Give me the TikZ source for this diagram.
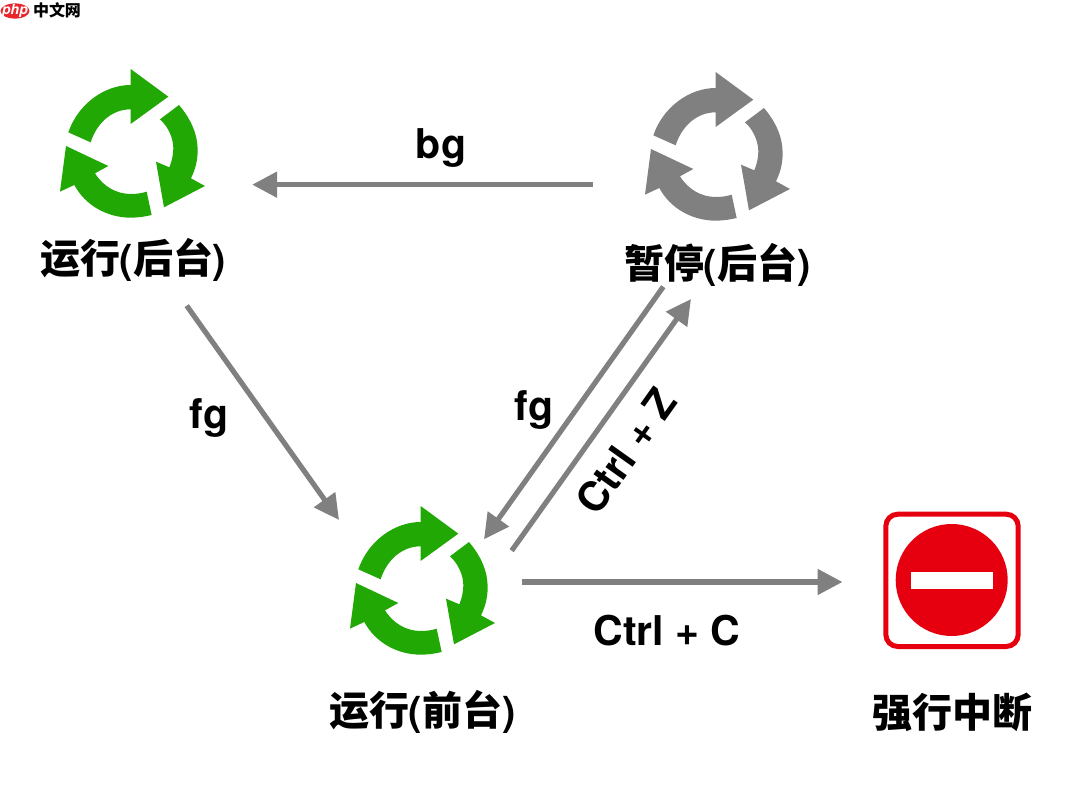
\documentclass[tikz,border=0pt]{standalone}
\usepackage{fontspec}
\usetikzlibrary{arrows.meta}
\setmainfont{TeX Gyre Heros}
\newfontfamily\cjkfont{Noto Sans CJK SC}
\definecolor{iconGreen}{HTML}{22A804}
\definecolor{iconGray}{HTML}{808080}
\definecolor{stopRed}{HTML}{E6000F}
\definecolor{logoRed}{HTML}{E8262B}
\tikzset{
  flow/.style={draw=iconGray,line width=5.2pt,-{Triangle[length=25pt,width=25pt]}},
  iconanchor/.style={inner sep=0pt,minimum size=1pt},
  cnlabel/.style={inner sep=0pt,font=\cjkfont\bfseries\fontsize{40}{40}\selectfont},
  keylabel/.style={inner sep=0pt,font=\bfseries\fontsize{41}{41}\selectfont},
}
\newcommand{\pl}{\kern-1pt{\normalfont\bfseries(}}
\newcommand{\pr}{{\normalfont\bfseries)}\kern-1pt}
\newcommand{\recycleicon}[3]{%
\begin{scope}[shift={(#2,#3)},x=0.3333pt,y=-0.3333pt]
\fill[#1] (85,247) .. controls (115,160) and (195,105) .. (272,105) -- (272,57) -- (385,140) -- (272,222) -- (272,178) .. controls (215,178) and (170,220) .. (152,277) -- cycle;
\fill[#1] (417,165) .. controls (455,210) and (473,255) .. (473,300) .. controls (473,335) and (465,360) .. (453,385) -- (495,408) -- (372,472) -- (348,335) -- (388,352) .. controls (397,330) and (400,310) .. (400,295) .. controls (400,265) and (385,230) .. (360,208) -- cycle;
\fill[#1] (103,405) .. controls (135,465) and (200,503) .. (272,503) .. controls (295,503) and (315,500) .. (335,495) -- (320,425) .. controls (305,430) and (290,432) .. (272,432) .. controls (230,432) and (190,410) .. (165,370) -- (205,348) -- (78,288) -- (60,425) -- cycle;
\end{scope}}
\begin{document}
\begin{tikzpicture}[x=1pt,y=-1pt]
\useasboundingbox (0,0) rectangle (1080,792);
% logo
\fill[logoRed] (15,11) ellipse [x radius=14.5pt,y radius=7.6pt];
\node[inner sep=0pt,text=white,font=\bfseries\itshape\fontsize{14}{14}\selectfont] (logoA) at (15,10.5) {php};
\node[inner sep=0pt,font=\cjkfont\bfseries\fontsize{16}{16}\selectfont] (logoB) at (57,10) {中文网};
% icons
\recycleicon{iconGreen}{40}{50}
\recycleicon{iconGray}{625}{53}
\recycleicon{iconGreen}{330}{487}
\node[iconanchor] (runbg) at (130.67,146.67) {};
\node[iconanchor] (pause) at (715.67,149.67) {};
\node[iconanchor] (runfg) at (420.67,583.67) {};
% stop sign
\draw[stopRed,line width=5pt,rounded corners=12pt] (885.8,514.2) rectangle (1018.2,646.5);
\fill[stopRed] (951.7,580) circle [radius=56pt];
\fill[white] (911,571.7) rectangle (992.7,589);
\node[iconanchor] (stopsign) at (952,580.3) {};
% labels
\node[cnlabel] (lblRunBg) at (133,260) {运行\pl 后台\pr};
\node[cnlabel] (lblPause) at (717,265) {暂停\pl 后台\pr};
\node[cnlabel] (lblRunFg) at (422,712) {运行\pl 前台\pr};
\node[cnlabel] (lblStop) at (952,712) {强行中断};
\node[keylabel] (kBg) at (441,148) {bg};
\node[keylabel] (kFgA) at (209,418) {fg};
\node[keylabel] (kFgB) at (534,410) {fg};
\node[keylabel] (kCtrlC) at (667,631) {Ctrl + C};
\node[keylabel,rotate=54.6] (kCtrlZ) at (626,451) {Ctrl + Z};
% connectors
\draw[flow] ([shift={(-122.67,35)}]pause.center) -- ([shift={(121.5,38)}]runbg.center);
\draw[flow] ([shift={(53.7,45.7)}]lblRunBg.center) -- ([shift={(-81.67,-63.67)}]runfg.center);
\draw[flow] ([shift={(-53.7,21.7)}]lblPause.center) -- ([shift={(63.33,-44.37)}]runfg.center);
\draw[flow] ([shift={(91,-33)}]runfg.center) -- ([shift={(-26,34)}]lblPause.center);
\draw[flow] ([shift={(101.33,-1.67)}]runfg.center) -- ([shift={(-109.5,1.7)}]stopsign.center);
\end{tikzpicture}
\end{document}
